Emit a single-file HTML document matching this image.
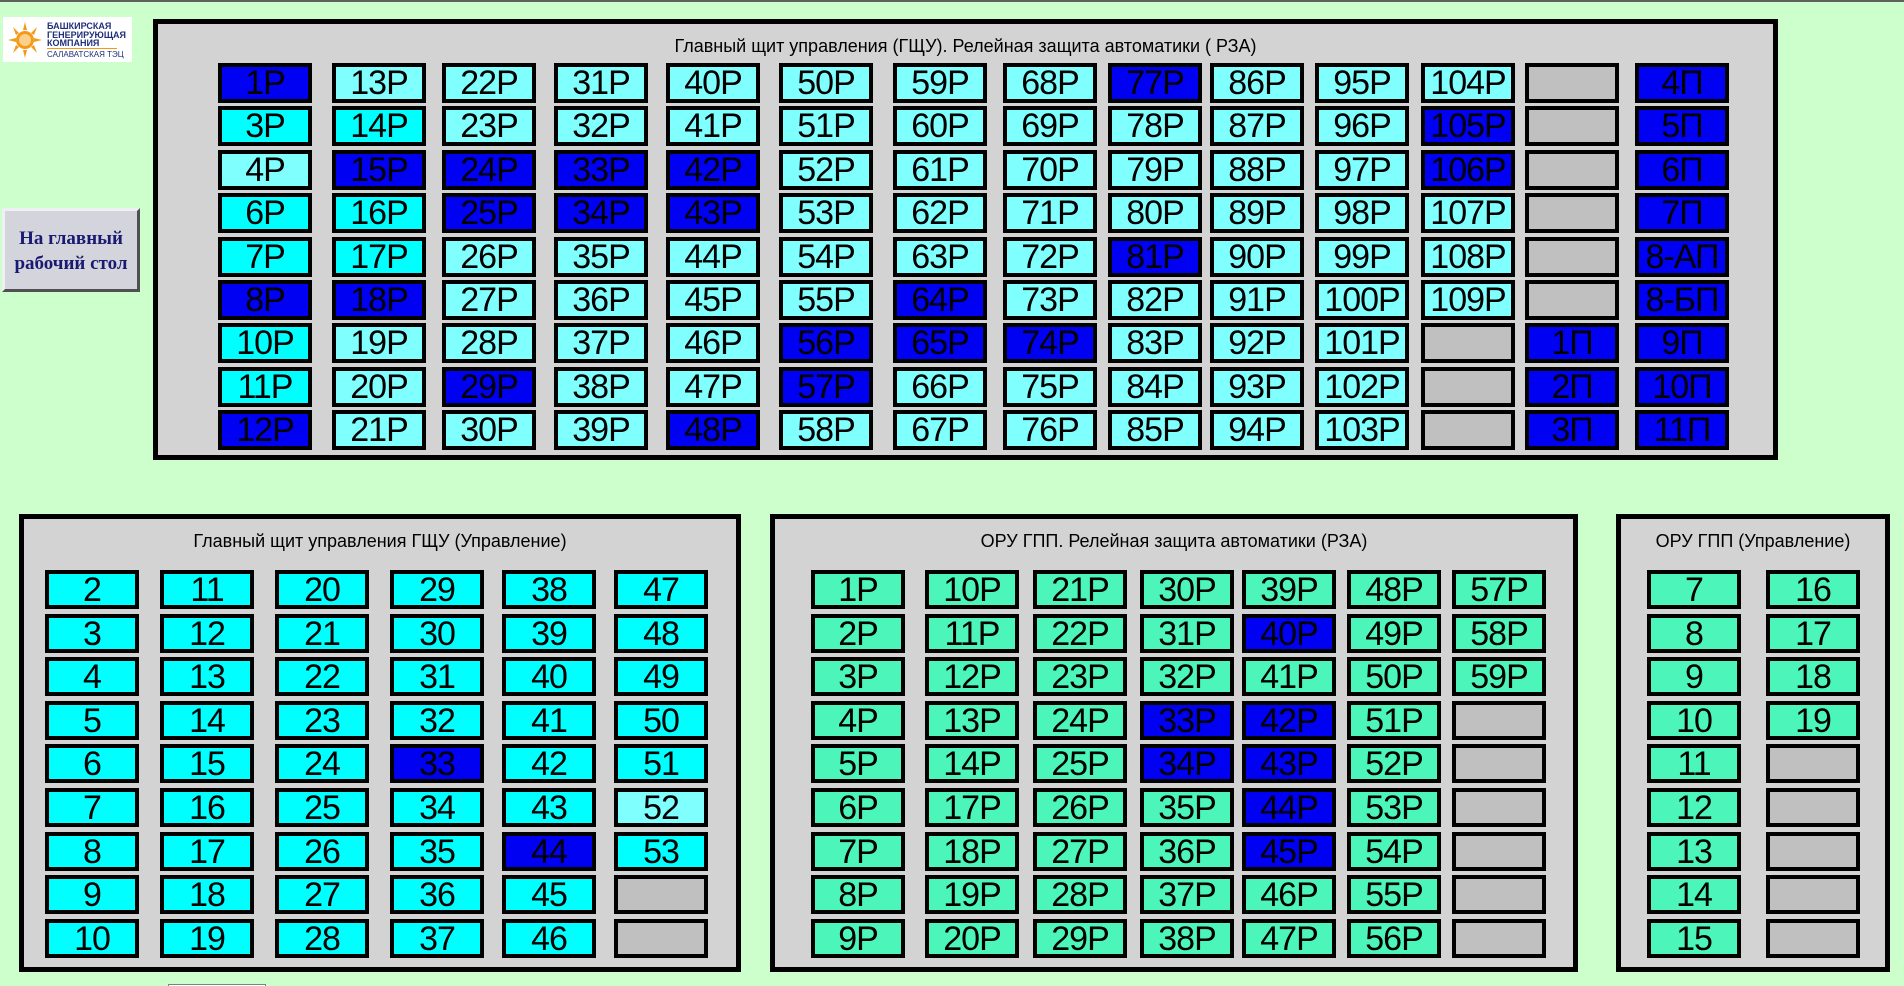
<!DOCTYPE html>
<html><head><meta charset="utf-8">
<style>
*{margin:0;padding:0;box-sizing:border-box}
body{width:1904px;height:986px;background:#ccffcc;position:relative;overflow:hidden;font-family:"Liberation Sans",Arial,sans-serif}
.topline{position:absolute;left:0;top:0;width:1904px;height:2px;background:#606060}
.panel{position:absolute;background:#d3d3d3;border:5px solid #000}
.title{position:absolute;left:0;right:0;text-align:center;font-size:18px;color:#000}
.col{position:absolute;display:flex;flex-direction:column}
.col div{width:94px;height:40px;border:4px solid #000;font-size:34px;line-height:32px;text-align:center;color:#000;white-space:nowrap;overflow:hidden;letter-spacing:-1px}
.t .col{gap:3.4px}
.b .col{gap:4.6px}
.b .col div{height:39px}
.D{background:#0000f2}.C{background:#00ffff}.L{background:#80ffff}.G{background:#c0c0c0}.E{background:#4cf5b9}
.logo{position:absolute;left:3px;top:17px;width:129px;height:45px;background:#fff}
.nav{position:absolute;left:2px;top:208px;width:138px;height:84px;background:#d4d5dc;border:3px solid;border-color:#f0f0f4 #505050 #505050 #f0f0f4;font-family:"Liberation Serif",serif;font-size:19px;font-weight:bold;color:#1a1a70;text-align:center;padding-top:15px;line-height:25px}
</style></head><body>
<div class="topline"></div>
<div class="logo">
<svg width="36" height="40" viewBox="0 0 36 40" style="position:absolute;left:4px;top:3px">
<g fill="#f39a1a"><circle cx="18" cy="20" r="9"/>
<polygon points="18,2 20,10 16,10"/><polygon points="18,38 20,30 16,30"/><polygon points="1,20 9,18 9,22"/><polygon points="35,20 27,18 27,22"/>
<polygon points="6,7 12,13 9,15"/><polygon points="30,33 24,27 27,25"/><polygon points="30,7 24,13 27,15"/><polygon points="6,33 12,27 9,25"/></g>
<circle cx="18" cy="20" r="6" fill="#fbd08a"/></svg>
<div style="position:absolute;left:44px;top:5px;font-size:9px;line-height:8.5px;font-weight:bold;color:#1f2f7a">БАШКИРСКАЯ<br>ГЕНЕРИРУЮЩАЯ<br>КОМПАНИЯ</div>
<div style="position:absolute;left:44px;top:31px;width:70px;height:1px;background:#f39a1a"></div>
<div style="position:absolute;left:44px;top:33px;font-size:8px;color:#1f2f7a">САЛАВАТСКАЯ ТЭЦ</div>
</div>
<div class="nav">На главный<br>рабочий стол</div>

<div class="panel t" style="left:153px;top:19px;width:1625px;height:441px">
<div class="title" style="top:12px">Главный щит управления (ГЩУ). Релейная защита автоматики ( РЗА)</div>
</div>
<div class="t">
<div class="col" style="left:218px;top:63px"><div class="D">1P</div><div class="C">3P</div><div class="L">4P</div><div class="C">6P</div><div class="C">7P</div><div class="D">8P</div><div class="C">10P</div><div class="C">11P</div><div class="D">12P</div></div>
<div class="col" style="left:332px;top:63px"><div class="L">13P</div><div class="C">14P</div><div class="D">15P</div><div class="C">16P</div><div class="C">17P</div><div class="D">18P</div><div class="L">19P</div><div class="L">20P</div><div class="L">21P</div></div>
<div class="col" style="left:442px;top:63px"><div class="L">22P</div><div class="L">23P</div><div class="D">24P</div><div class="D">25P</div><div class="L">26P</div><div class="L">27P</div><div class="L">28P</div><div class="D">29P</div><div class="L">30P</div></div>
<div class="col" style="left:554px;top:63px"><div class="L">31P</div><div class="L">32P</div><div class="D">33P</div><div class="D">34P</div><div class="L">35P</div><div class="L">36P</div><div class="L">37P</div><div class="L">38P</div><div class="L">39P</div></div>
<div class="col" style="left:666px;top:63px"><div class="L">40P</div><div class="L">41P</div><div class="D">42P</div><div class="D">43P</div><div class="L">44P</div><div class="L">45P</div><div class="L">46P</div><div class="L">47P</div><div class="D">48P</div></div>
<div class="col" style="left:779px;top:63px"><div class="L">50P</div><div class="L">51P</div><div class="L">52P</div><div class="L">53P</div><div class="L">54P</div><div class="L">55P</div><div class="D">56P</div><div class="D">57P</div><div class="L">58P</div></div>
<div class="col" style="left:893px;top:63px"><div class="L">59P</div><div class="L">60P</div><div class="L">61P</div><div class="L">62P</div><div class="L">63P</div><div class="D">64P</div><div class="D">65P</div><div class="L">66P</div><div class="L">67P</div></div>
<div class="col" style="left:1003px;top:63px"><div class="L">68P</div><div class="L">69P</div><div class="L">70P</div><div class="L">71P</div><div class="L">72P</div><div class="L">73P</div><div class="D">74P</div><div class="L">75P</div><div class="L">76P</div></div>
<div class="col" style="left:1108px;top:63px"><div class="D">77P</div><div class="L">78P</div><div class="L">79P</div><div class="L">80P</div><div class="D">81P</div><div class="L">82P</div><div class="L">83P</div><div class="L">84P</div><div class="L">85P</div></div>
<div class="col" style="left:1210px;top:63px"><div class="L">86P</div><div class="L">87P</div><div class="L">88P</div><div class="L">89P</div><div class="L">90P</div><div class="L">91P</div><div class="L">92P</div><div class="L">93P</div><div class="L">94P</div></div>
<div class="col" style="left:1315px;top:63px"><div class="L">95P</div><div class="L">96P</div><div class="L">97P</div><div class="L">98P</div><div class="L">99P</div><div class="L">100P</div><div class="L">101P</div><div class="L">102P</div><div class="L">103P</div></div>
<div class="col" style="left:1421px;top:63px"><div class="L">104P</div><div class="D">105P</div><div class="D">106P</div><div class="L">107P</div><div class="L">108P</div><div class="L">109P</div><div class="G"></div><div class="G"></div><div class="G"></div></div>
<div class="col" style="left:1525px;top:63px"><div class="G"></div><div class="G"></div><div class="G"></div><div class="G"></div><div class="G"></div><div class="G"></div><div class="D">1П</div><div class="D">2П</div><div class="D">3П</div></div>
<div class="col" style="left:1635px;top:63px"><div class="D">4П</div><div class="D">5П</div><div class="D">6П</div><div class="D">7П</div><div class="D">8-АП</div><div class="D">8-БП</div><div class="D">9П</div><div class="D">10П</div><div class="D">11П</div></div>
</div>

<div class="panel" style="left:19px;top:514px;width:722px;height:458px"><div class="title" style="top:12px">Главный щит управления ГЩУ (Управление)</div></div>
<div class="panel" style="left:770px;top:514px;width:808px;height:458px"><div class="title" style="top:12px">ОРУ ГПП. Релейная защита автоматики (РЗА)</div></div>
<div class="panel" style="left:1616px;top:514px;width:274px;height:458px"><div class="title" style="top:12px">ОРУ ГПП (Управление)</div></div>

<div class="b">
<div class="col" style="left:45px;top:570px"><div class="C">2</div><div class="C">3</div><div class="C">4</div><div class="C">5</div><div class="C">6</div><div class="C">7</div><div class="C">8</div><div class="C">9</div><div class="C">10</div></div>
<div class="col" style="left:160px;top:570px"><div class="C">11</div><div class="C">12</div><div class="C">13</div><div class="C">14</div><div class="C">15</div><div class="C">16</div><div class="C">17</div><div class="C">18</div><div class="C">19</div></div>
<div class="col" style="left:275px;top:570px"><div class="C">20</div><div class="C">21</div><div class="C">22</div><div class="C">23</div><div class="C">24</div><div class="C">25</div><div class="C">26</div><div class="C">27</div><div class="C">28</div></div>
<div class="col" style="left:390px;top:570px"><div class="C">29</div><div class="C">30</div><div class="C">31</div><div class="C">32</div><div class="D">33</div><div class="C">34</div><div class="C">35</div><div class="C">36</div><div class="C">37</div></div>
<div class="col" style="left:502px;top:570px"><div class="C">38</div><div class="C">39</div><div class="C">40</div><div class="C">41</div><div class="C">42</div><div class="C">43</div><div class="D">44</div><div class="C">45</div><div class="C">46</div></div>
<div class="col" style="left:614px;top:570px"><div class="C">47</div><div class="C">48</div><div class="C">49</div><div class="C">50</div><div class="C">51</div><div class="L">52</div><div class="C">53</div><div class="G"></div><div class="G"></div></div>

<div class="col" style="left:811px;top:570px"><div class="E">1P</div><div class="E">2P</div><div class="E">3P</div><div class="E">4P</div><div class="E">5P</div><div class="E">6P</div><div class="E">7P</div><div class="E">8P</div><div class="E">9P</div></div>
<div class="col" style="left:925px;top:570px"><div class="E">10P</div><div class="E">11P</div><div class="E">12P</div><div class="E">13P</div><div class="E">14P</div><div class="E">17P</div><div class="E">18P</div><div class="E">19P</div><div class="E">20P</div></div>
<div class="col" style="left:1033px;top:570px"><div class="E">21P</div><div class="E">22P</div><div class="E">23P</div><div class="E">24P</div><div class="E">25P</div><div class="E">26P</div><div class="E">27P</div><div class="E">28P</div><div class="E">29P</div></div>
<div class="col" style="left:1140px;top:570px"><div class="E">30P</div><div class="E">31P</div><div class="E">32P</div><div class="D">33P</div><div class="D">34P</div><div class="E">35P</div><div class="E">36P</div><div class="E">37P</div><div class="E">38P</div></div>
<div class="col" style="left:1242px;top:570px"><div class="E">39P</div><div class="D">40P</div><div class="E">41P</div><div class="D">42P</div><div class="D">43P</div><div class="D">44P</div><div class="D">45P</div><div class="E">46P</div><div class="E">47P</div></div>
<div class="col" style="left:1347px;top:570px"><div class="E">48P</div><div class="E">49P</div><div class="E">50P</div><div class="E">51P</div><div class="E">52P</div><div class="E">53P</div><div class="E">54P</div><div class="E">55P</div><div class="E">56P</div></div>
<div class="col" style="left:1452px;top:570px"><div class="E">57P</div><div class="E">58P</div><div class="E">59P</div><div class="G"></div><div class="G"></div><div class="G"></div><div class="G"></div><div class="G"></div><div class="G"></div></div>

<div class="col" style="left:1647px;top:570px"><div class="E">7</div><div class="E">8</div><div class="E">9</div><div class="E">10</div><div class="E">11</div><div class="E">12</div><div class="E">13</div><div class="E">14</div><div class="E">15</div></div>
<div class="col" style="left:1766px;top:570px"><div class="E">16</div><div class="E">17</div><div class="E">18</div><div class="E">19</div><div class="G"></div><div class="G"></div><div class="G"></div><div class="G"></div><div class="G"></div></div>
</div>
<div style="position:absolute;left:168px;top:984px;width:98px;height:2px;border-top:1px solid #808080;border-left:1px solid #808080;border-right:1px solid #808080;background:#fff"></div>
</body></html>
